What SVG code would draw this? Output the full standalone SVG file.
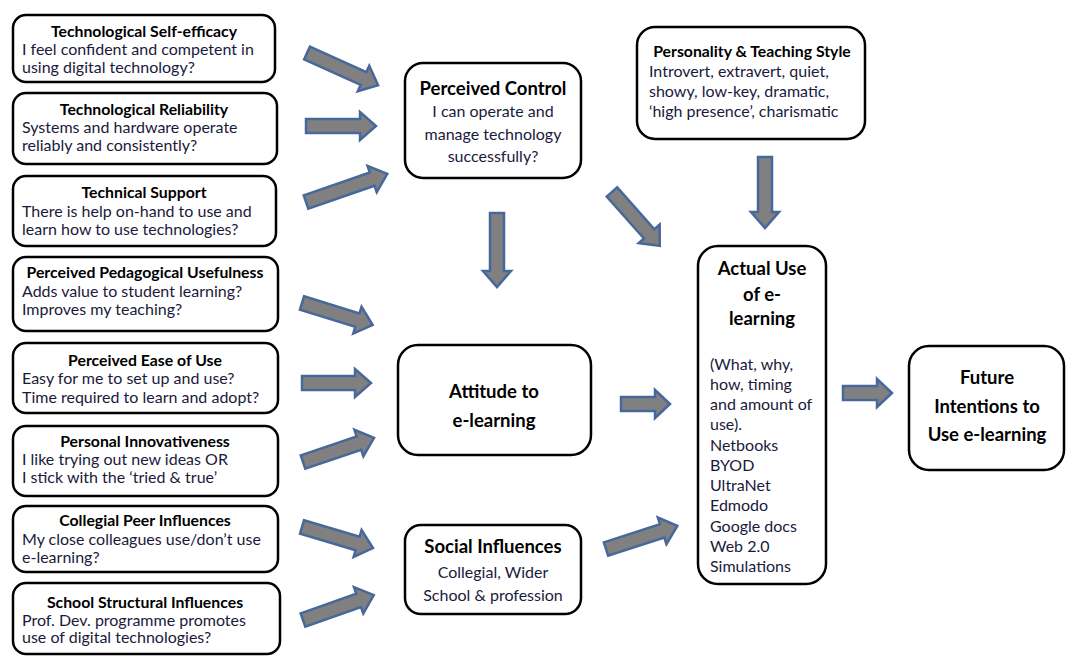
<svg xmlns="http://www.w3.org/2000/svg" width="1074" height="668" viewBox="0 0 1074 668">
<style>
.box{fill:#fff;stroke:#000;stroke-width:2.5}
.t{font-family:Lato,"Liberation Sans",sans-serif;font-weight:bold;fill:#000;font-size:15.8px;text-anchor:middle}
.tl{font-family:Lato,"Liberation Sans",sans-serif;font-weight:bold;fill:#000;font-size:18.5px;text-anchor:middle}
.b{font-family:Lato,"Liberation Sans",sans-serif;fill:#1a1a3c;font-size:16px}
.bc{font-family:Lato,"Liberation Sans",sans-serif;fill:#1a1a3c;font-size:16px;text-anchor:middle}
.arr{fill:#808080;stroke:#46689a;stroke-width:2.5;stroke-linejoin:miter}
</style>
<rect width="1074" height="668" fill="#fff"/>
<g id="connectors">
<path class="arr" transform="translate(307,53) rotate(24.3)" d="M0,-7H62V-14L78,0L62,14V7H0Z"/>
<path class="arr" transform="translate(306,126)" d="M0,-7H54V-14L70,0L54,14V7H0Z"/>
<path class="arr" transform="translate(306,202) rotate(-19.1)" d="M0,-7H70V-14L86,0L70,14V7H0Z"/>
<path class="arr" transform="translate(302,303) rotate(17.2)" d="M0,-7H58V-14L74,0L58,14V7H0Z"/>
<path class="arr" transform="translate(302,383)" d="M0,-7H53V-14L69,0L53,14V7H0Z"/>
<path class="arr" transform="translate(303,462) rotate(-18.7)" d="M0,-7H59V-14L75,0L59,14V7H0Z"/>
<path class="arr" transform="translate(302,527) rotate(16.5)" d="M0,-7H58V-14L74,0L58,14V7H0Z"/>
<path class="arr" transform="translate(303,620) rotate(-19.4)" d="M0,-7H59V-14L75,0L59,14V7H0Z"/>
<path class="arr" transform="translate(606,549) rotate(-17.9)" d="M0,-7H59V-14L75,0L59,14V7H0Z"/>
<path class="arr" transform="translate(621,404)" d="M0,-7H34V-14L49,0L34,14V7H0Z"/>
<path class="arr" transform="translate(843,393)" d="M0,-7H34V-14L49,0L34,14V7H0Z"/>
<path class="arr" transform="translate(497,213) rotate(90)" d="M0,-7H58V-14L74,0L58,14V7H0Z"/>
<path class="arr" transform="translate(765,157) rotate(90)" d="M0,-7H55V-14L71,0L55,14V7H0Z"/>
<path class="arr" transform="translate(612,192) rotate(48.4)" d="M0,-7H56V-14L72,0L56,14V7H0Z"/>
</g>
<g id="self-efficacy">
<rect class="box" x="13" y="15" width="262" height="67" rx="13"/>
<text class="t" x="144" y="37">Technological Self-efficacy</text>
<text class="b" x="22" y="55">I feel confident and competent in</text>
<text class="b" x="22" y="73">using digital technology?</text>
</g>
<g id="reliability">
<rect class="box" x="13" y="93" width="264" height="71" rx="13"/>
<text class="t" x="144" y="115">Technological Reliability</text>
<text class="b" x="22" y="133">Systems and hardware operate</text>
<text class="b" x="22" y="151">reliably and consistently?</text>
</g>
<g id="support">
<rect class="box" x="13" y="176" width="263" height="70" rx="13"/>
<text class="t" x="144" y="198">Technical Support</text>
<text class="b" x="22" y="217">There is help on-hand to use and</text>
<text class="b" x="22" y="235">learn how to use technologies?</text>
</g>
<g id="usefulness">
<rect class="box" x="13" y="257" width="265" height="74" rx="13"/>
<text class="t" x="145" y="278">Perceived Pedagogical Usefulness</text>
<text class="b" x="22" y="297">Adds value to student learning?</text>
<text class="b" x="22" y="315">Improves my teaching?</text>
</g>
<g id="ease">
<rect class="box" x="13" y="343" width="265" height="70" rx="13"/>
<text class="t" x="145" y="366">Perceived Ease of Use</text>
<text class="b" x="22" y="384">Easy for me to set up and use?</text>
<text class="b" x="22" y="403">Time required to learn and adopt?</text>
</g>
<g id="innovativeness">
<rect class="box" x="13" y="426" width="265" height="70" rx="13"/>
<text class="t" x="145" y="447">Personal Innovativeness</text>
<text class="b" x="22" y="465">I like trying out new ideas OR</text>
<text class="b" x="22" y="483">I stick with the ‘tried &amp; true’</text>
</g>
<g id="collegial">
<rect class="box" x="13" y="506" width="265" height="66" rx="13"/>
<text class="t" x="145" y="526">Collegial Peer Influences</text>
<text class="b" x="22" y="545">My close colleagues use/don’t use</text>
<text class="b" x="22" y="563">e-learning?</text>
</g>
<g id="school">
<rect class="box" x="13" y="583" width="267" height="71" rx="13"/>
<text class="t" x="145" y="608">School Structural Influences</text>
<text class="b" x="22" y="626">Prof. Dev. programme promotes</text>
<text class="b" x="22" y="643">use of digital technologies?</text>
</g>
<g id="perceived-control">
<rect class="box" x="405" y="63" width="176" height="115" rx="18"/>
<text class="tl" x="493" y="95">Perceived Control</text>
<text class="bc" x="493" y="117">I can operate and</text>
<text class="bc" x="493" y="140">manage technology</text>
<text class="bc" x="493" y="162">successfully?</text>
</g>
<g id="attitude">
<rect class="box" x="398" y="345" width="193" height="110" rx="20"/>
<text class="tl" x="494" y="398">Attitude to</text>
<text class="tl" x="494" y="427">e-learning</text>
</g>
<g id="social">
<rect class="box" x="405" y="525" width="176" height="89" rx="16"/>
<text class="tl" x="493" y="553">Social Influences</text>
<text class="bc" x="493" y="578">Collegial, Wider</text>
<text class="bc" x="493" y="601">School &amp; profession</text>
</g>
<g id="personality">
<rect class="box" x="637" y="27" width="228" height="112" rx="18"/>
<text class="t" x="752" y="57">Personality &amp; Teaching Style</text>
<text class="b" x="649" y="77">Introvert, extravert, quiet,</text>
<text class="b" x="649" y="97">showy, low-key, dramatic,</text>
<text class="b" x="649" y="117">‘high presence’, charismatic</text>
</g>
<g id="actual-use">
<rect class="box" x="698" y="246" width="128" height="338" rx="20"/>
<text class="tl" x="762" y="275">Actual Use</text>
<text class="tl" x="762" y="301">of e-</text>
<text class="tl" x="762" y="325">learning</text>
<text class="b" x="710" y="370">(What, why,</text>
<text class="b" x="710" y="390">how, timing</text>
<text class="b" x="710" y="410">and amount of</text>
<text class="b" x="710" y="430">use).</text>
<text class="b" x="710" y="451">Netbooks</text>
<text class="b" x="710" y="471">BYOD</text>
<text class="b" x="710" y="491">UltraNet</text>
<text class="b" x="710" y="511">Edmodo</text>
<text class="b" x="710" y="532">Google docs</text>
<text class="b" x="710" y="552">Web 2.0</text>
<text class="b" x="710" y="572">Simulations</text>
</g>
<g id="future">
<rect class="box" x="909" y="346" width="155" height="124" rx="20"/>
<text class="tl" x="987" y="384">Future</text>
<text class="tl" x="987" y="413">Intentions to</text>
<text class="tl" x="987" y="441">Use e-learning</text>
</g>
</svg>
